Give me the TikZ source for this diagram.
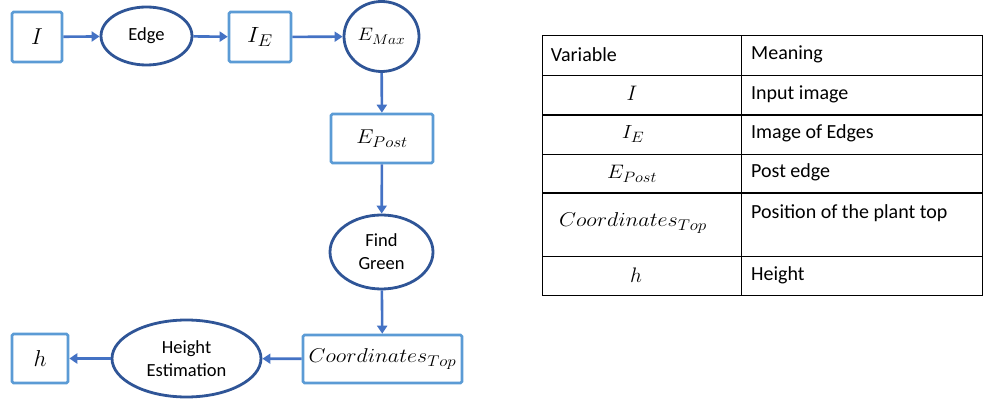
\RequirePackage{fix-cm}
\documentclass[tikz,border=0pt]{standalone}
\usepackage{fontspec}
\setmainfont{Carlito}
\newcommand\msub[4]{\scalebox{1.1}[1]{\fontsize{#3}{#3}\selectfont$#1_{\mbox{\fontsize{#4}{#4}\selectfont$#2$}}$}}
\usetikzlibrary{arrows.meta,shapes.geometric}
\definecolor{boxblue}{RGB}{91,155,213}
\definecolor{ellblue}{RGB}{47,85,151}
\definecolor{arrblue}{RGB}{68,114,196}
\tikzset{
  sqbox/.style={draw=boxblue,line width=2.6pt,rounded corners=1.5pt,inner sep=0pt,fill=white,
     font=\fontsize{23}{26}\selectfont},
  ellbox/.style={ellipse,draw=ellblue,line width=2.8pt,inner sep=0pt,fill=white,align=center,
     font=\fontsize{18.5}{23}\selectfont},
  flow/.style={draw=arrblue,line width=2.6pt,-{Triangle[length=8pt,width=10pt]}},
  tline/.style={draw=black,line width=1pt},
  tthick/.style={draw=black,line width=2pt},
  ttext/.style={anchor=west,inner sep=0pt,font=\fontsize{20}{24}\selectfont},
  tmath/.style={inner sep=0pt,font=\fontsize{21}{24}\selectfont},
}
\begin{document}
\begin{tikzpicture}[x=1pt,y=-1pt]
\useasboundingbox (0,0) rectangle (996,403);
% flowchart
\node[sqbox,minimum width=50pt,minimum height=50pt] (I) at (37,37) {$I$};
\node[ellbox,minimum width=91pt,minimum height=58pt] (edge) at (146.5,36) {Edge};
\node[sqbox,minimum width=62pt,minimum height=50pt] (IE) at (260,37) {\msub{I}{E}{22}{17}};
\node[ellbox,minimum width=75pt,minimum height=70pt] (emax) at (381.5,36.5) {\msub{E}{Max}{18}{14}};
\node[sqbox,minimum width=102pt,minimum height=49pt] (epost) at (382,138.5) {\msub{E}{Post}{20}{15.5}};
\node[ellbox,minimum width=103pt,minimum height=74pt] (green) at (381.5,252) {Find\\Green};
\node[sqbox,minimum width=159pt,minimum height=48pt] (coord) at (382.5,359) {\msub{Coordinates}{Top}{20}{15.5}};
\node[ellbox,minimum width=149pt,minimum height=77pt] (hest) at (186.5,358.5) {Height\\Estimation};
\node[sqbox,minimum width=56pt,minimum height=49pt] (h) at (40,358.5) {$h$};
\draw[flow] (I) -- (edge);
\draw[flow] (edge) -- (IE);
\draw[flow] (IE) -- (emax);
\draw[flow] (emax) -- (epost);
\draw[flow] (epost) -- (green);
\draw[flow] (green) -- (coord);
\draw[flow] (coord) -- (hest);
\draw[flow] (hest) -- (h);
% table
\draw[tline] (542.3,36) rectangle (982.3,295.3);
\draw[tline] (741.7,36) -- (741.7,295.3);
\draw[tline] (542.3,75.3) -- (982.3,75.3);
\draw[tthick] (542.3,115) -- (982.3,115);
\draw[tline] (542.3,154.3) -- (982.3,154.3);
\draw[tthick] (542.3,193.3) -- (982.3,193.3);
\draw[tline] (542.3,256.7) -- (982.3,256.7);
\node[ttext] (hvar) at (550.7,54.5) {Variable};
\node[ttext] (hmean) at (751,54.5) {Meaning};
\node[tmath] (v1) at (632,93) {$I$};
\node[ttext] (m1) at (751,94) {Input image};
\node[tmath] (v2) at (633,134) {\msub{I}{E}{19}{15}};
\node[ttext] (m2) at (751,133) {Image of Edges};
\node[tmath] (v3) at (632,174) {\msub{E}{Post}{19.5}{15}};
\node[ttext] (m3) at (751,172.7) {Post edge};
\node[tmath] (v4) at (633,223) {\msub{Coordinates}{Top}{20}{15.5}};
\node[ttext] (m4) at (751,212.7) {Position of the plant top};
\node[tmath] (v5) at (636,275) {$h$};
\node[ttext] (m5) at (751,275) {Height};
\end{tikzpicture}
\end{document}
